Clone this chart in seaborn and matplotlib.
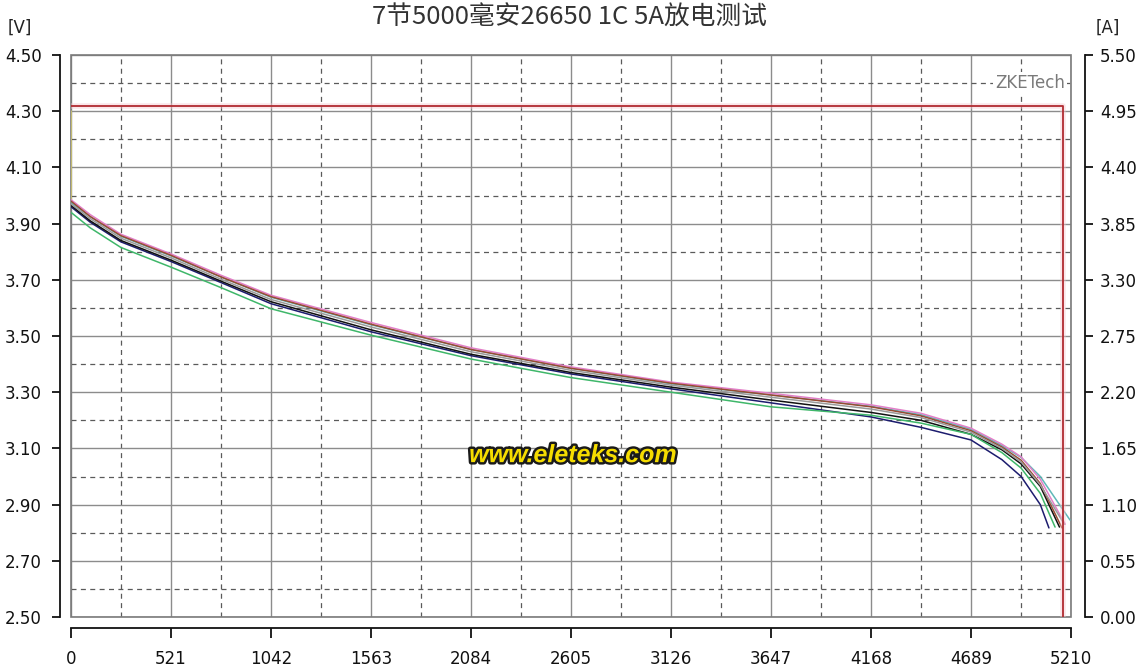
import matplotlib
matplotlib.use("Agg")
import matplotlib.pyplot as plt
import matplotlib.patheffects as pe
from matplotlib.patches import Rectangle
from matplotlib.ticker import FixedLocator, FormatStrFormatter
import pandas as pd
import seaborn as sns

# ---- discharge data: elapsed time [s] vs cell voltage [V] ----
time_s = [0, 100, 260, 521, 782, 1042, 1563, 2084, 2605, 3126, 3647,
          4168, 4428, 4689, 4850, 4950, 5050]

v_navy = [3.960, 3.905, 3.835, 3.765, 3.690, 3.615, 3.515, 3.430, 3.365, 3.312, 3.262,
          3.212, 3.175, 3.130, 3.060, 3.000, 2.900]
v_black = [3.965, 3.910, 3.840, 3.770, 3.695, 3.622, 3.522, 3.435, 3.370, 3.318, 3.272,
           3.228, 3.200, 3.150, 3.095, 3.045, 2.965]
v_green = [3.940, 3.885, 3.815, 3.745, 3.672, 3.597, 3.503, 3.418, 3.352, 3.300, 3.248,
           3.218, 3.190, 3.150, 3.085, 3.030, 2.940]
v_teal = [3.975, 3.925, 3.855, 3.785, 3.710, 3.638, 3.540, 3.452, 3.385, 3.330, 3.290,
          3.250, 3.220, 3.168, 3.110, 3.068, 3.000]
v_pink = [3.985, 3.932, 3.862, 3.792, 3.716, 3.645, 3.548, 3.458, 3.390, 3.336, 3.296,
          3.255, 3.225, 3.172, 3.115, 3.070, 2.990]
v_brown = [3.980, 3.925, 3.857, 3.787, 3.710, 3.640, 3.542, 3.452, 3.385, 3.332, 3.290,
           3.248, 3.216, 3.163, 3.105, 3.058, 2.975]
v_gray = [3.970, 3.918, 3.848, 3.778, 3.702, 3.630, 3.532, 3.444, 3.378, 3.325, 3.282,
          3.240, 3.210, 3.158, 3.100, 3.052, 2.970]

# cut-off point of each cell (time, voltage)
cell_names = ["#1", "#2", "#3", "#4", "#5", "#6", "#7"]
end_time = [5095, 5150, 5127, 5205, 5180, 5163, 5175]
end_volt = [2.817, 2.820, 2.820, 2.845, 2.830, 2.817, 2.830]
cell_colors = ["#1c1c6e", "#111111", "#3fb76a", "#5fb8b8", "#e27fc8", "#9a4a32", "#9a9a9a"]

# rest voltage before the load switches on
rest_t = [0, 0]
rest_v = [4.30, 3.98]

# discharge current [A]
cur_t = [0, 5168, 5168]
cur_a = [5.00, 5.00, 0.00]

x_ticks = [0, 521, 1042, 1563, 2084, 2605, 3126, 3647, 4168, 4689, 5210]
x_minor = [260.5, 781.5, 1302.5, 1823.5, 2344.5, 2865.5, 3386.5, 3907.5, 4428.5, 4949.5]
v_ticks = [2.50, 2.70, 2.90, 3.10, 3.30, 3.50, 3.70, 3.90, 4.10, 4.30, 4.50]
v_minor = [2.60, 2.80, 3.00, 3.20, 3.40, 3.60, 3.80, 4.00, 4.20, 4.40]
a_ticks = [0.00, 0.55, 1.10, 1.65, 2.20, 2.75, 3.30, 3.85, 4.40, 4.95, 5.50]

title = "7节5000毫安26650 1C 5A放电测试"

# ---- assemble long table for seaborn ----
series = [v_navy, v_black, v_green, v_teal, v_pink, v_brown, v_gray]
rows = []
for name, vals, te, ve in zip(cell_names, series, end_time, end_volt):
    for t, v in zip(time_s + [te], vals + [ve]):
        rows.append({"cell": name, "t": t, "v": v})
df = pd.DataFrame(rows)
cur_df = pd.DataFrame({"t": cur_t, "a": cur_a})

sns.set_style("white")
plt.rcParams["font.family"] = ["DejaVu Sans", "Noto Sans CJK SC"]

W, H = 1140, 670
fig = plt.figure(figsize=(W / 100, H / 100), dpi=100)
fig.patch.set_facecolor("white")
ax = fig.add_axes([71 / W, 1 - 617 / H, 1000 / W, 562 / H])
ax2 = ax.twinx()

ax.set_xlim(0, 5210)
ax.set_ylim(2.5, 4.5)
ax2.set_ylim(0, 5.5)

# grid: solid at major ticks, dashed half-way
ax.xaxis.set_major_locator(FixedLocator(x_ticks))
ax.xaxis.set_minor_locator(FixedLocator(x_minor))
ax.yaxis.set_major_locator(FixedLocator(v_ticks))
ax.yaxis.set_minor_locator(FixedLocator(v_minor))
ax.grid(which="major", color="#8c8c8c", lw=1.0, ls="-", zorder=0)
ax.grid(which="minor", color="#5a5a5a", lw=0.9, ls=(0, (4, 3.5)), zorder=0)
ax.set_axisbelow(True)
ax.yaxis.set_major_formatter(FormatStrFormatter("%.2f"))

ax2.yaxis.set_major_locator(FixedLocator(a_ticks))
ax2.yaxis.set_major_formatter(FormatStrFormatter("%.2f"))
ax2.grid(False)

# plot frame and detached axis lines
ax.add_patch(Rectangle((0, 0), 1, 1, transform=ax.transAxes, fill=False,
                       edgecolor="#7a7a7a", lw=1.2, zorder=1, clip_on=False))
for s in ("top", "right"):
    ax.spines[s].set_visible(False)
for s in ("top", "left", "bottom"):
    ax2.spines[s].set_visible(False)
ax.spines["left"].set_position(("outward", 8))
ax.spines["bottom"].set_position(("outward", 8))
ax2.spines["right"].set_position(("outward", 10))
for sp in (ax.spines["left"], ax.spines["bottom"], ax2.spines["right"]):
    sp.set_color("#111111")
    sp.set_linewidth(1.3)

ax.tick_params(axis="y", which="major", direction="out", length=6, width=1.3,
               pad=7, labelsize=12, colors="#111111", left=True)
ax.tick_params(axis="x", which="major", direction="out", length=7, width=1.3,
               pad=9, labelsize=12, colors="#111111", bottom=True)
ax.tick_params(which="minor", length=0)
ax2.tick_params(axis="y", direction="out", length=6, width=1.3, pad=5,
                labelsize=12, colors="#111111", right=True)

# current trace with a faint halo
sns.lineplot(data=cur_df, x="t", y="a", ax=ax2, sort=False, estimator=None,
             color="#f6c8cf", lw=4, alpha=0.45, zorder=2)
sns.lineplot(data=cur_df, x="t", y="a", ax=ax2, sort=False, estimator=None,
             color="#b02a30", lw=1.3, zorder=3)

# voltage curves
ax.plot(rest_t, rest_v, color="#f2e46a", lw=1.2, alpha=0.7, zorder=2)
sns.lineplot(data=df, x="t", y="v", hue="cell", hue_order=cell_names,
             palette=cell_colors, ax=ax, sort=False, estimator=None,
             lw=1.1, legend=False, zorder=3)
ax.set_xlabel("")
ax.set_ylabel("")
ax2.set_xlabel("")
ax2.set_ylabel("")

# labels
fig.text(0.5, 1 - 18 / H, title, ha="center", va="center", fontsize=18.5,
         color="#333333", family=["Noto Sans CJK SC", "DejaVu Sans"])
fig.text(20 / W, 1 - 28 / H, "[V]", ha="center", va="center", fontsize=12, color="#222222")
fig.text(1108 / W, 1 - 28 / H, "[A]", ha="center", va="center", fontsize=12, color="#222222")

ax.text(0.994, 0.95, "ZKETech", transform=ax.transAxes, ha="right", va="center",
        fontsize=12, color="#7a7a7a", zorder=4,
        bbox=dict(boxstyle="square,pad=0.1", fc="white", ec="none"))

ax.text(0.502, 0.288, "www.eleteks.com", transform=ax.transAxes, ha="center",
        va="center", fontsize=18, fontweight="bold", fontstyle="italic",
        family="Liberation Sans", color="#f5dc00", zorder=5,
        path_effects=[pe.Stroke(linewidth=3.5, foreground="#1a1a1a"), pe.Normal()])

fig.savefig("out.png", dpi=100, facecolor="white")
